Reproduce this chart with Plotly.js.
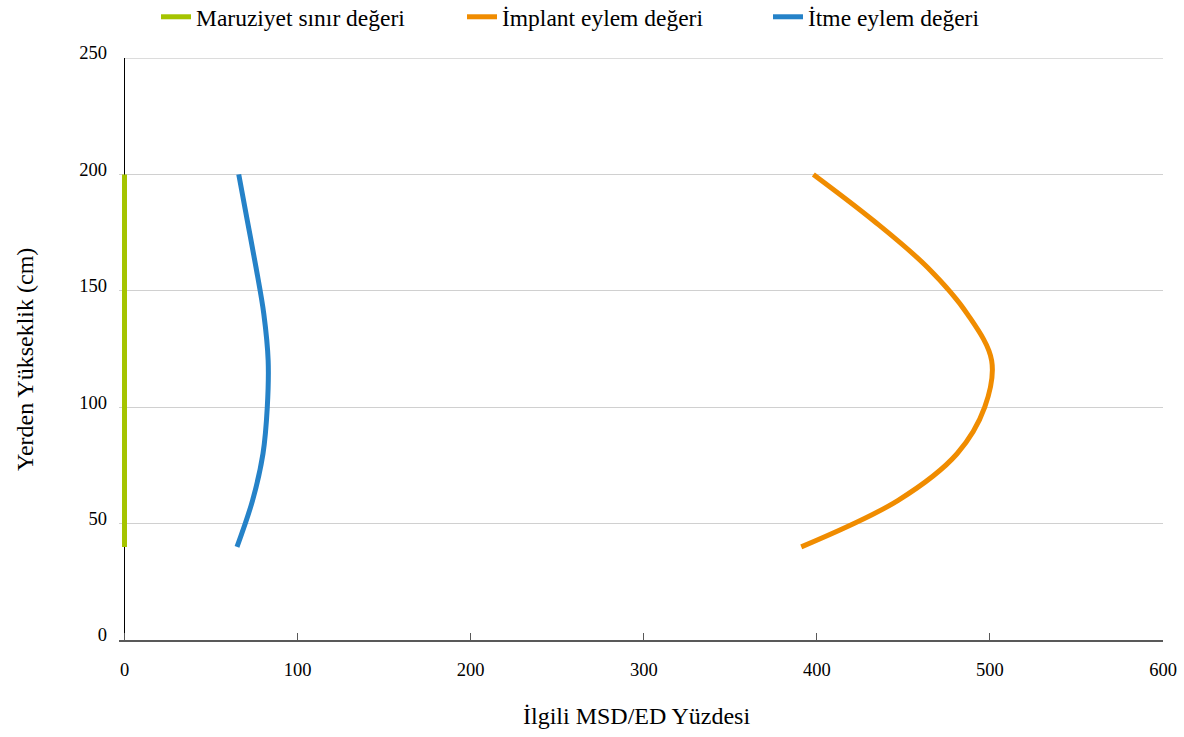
<!DOCTYPE html>
<html>
<head>
<meta charset="utf-8">
<script src="https://cdn.plot.ly/plotly-3.0.1.min.js"></script>
<style>html,body{margin:0;padding:0;background:#fff;}#chart{width:1184px;height:737px;}</style>
</head>
<body>
<div id="chart"></div>
<script>
const heights = [40, 60, 80, 100, 120, 140, 160, 180, 200];
const limitValues = [0, 0, 0, 0, 0, 0, 0, 0, 0];
const implantValues = [391, 447, 481, 497, 501, 487, 464, 433, 398];
const pushValues = [65, 74, 80, 82.5, 83, 80.5, 76, 71, 66];
const seriesNames = ["Maruziyet sınır değeri", "İmplant eylem değeri", "İtme eylem değeri"];
const xTicks = [0, 100, 200, 300, 400, 500, 600];
const yTicks = [0, 50, 100, 150, 200, 250];

const font = "'Times New Roman', 'Liberation Serif', serif";
const L = 119, R = 1163, T = 58, B = 640;
const x0px = 124.5;
const pxPerUnit = (R - x0px) / 600;
const xMin = -(x0px - L) / pxPerUnit;
const yMax = yTicks[yTicks.length - 1];

const traces = [
  {x: limitValues, y: heights, name: seriesNames[0], mode: "lines", line: {color: "#a5c400", width: 5}},
  {x: implantValues, y: heights, name: seriesNames[1], mode: "lines", line: {color: "#f08c00", width: 5, shape: "spline", smoothing: 1}},
  {x: pushValues, y: heights, name: seriesNames[2], mode: "lines", line: {color: "#2582c8", width: 5, shape: "spline", smoothing: 1}}
];
const layout = {
  width: 1184, height: 737,
  margin: {l: L, r: 1184 - R, t: T, b: 737 - B},
  paper_bgcolor: "#fff", plot_bgcolor: "#fff",
  font: {family: font, size: 18.5, color: "#000"},
  showlegend: true,
  legend: {orientation: "h", xref: "container", yref: "container",
           x: 156 / 1184, xanchor: "left", y: 1 - 17 / 737, yanchor: "middle",
           font: {family: font, size: 23.5, color: "#000"}, entrywidth: 261, entrywidthmode: "pixels",
           bgcolor: "rgba(0,0,0,0)"},
  xaxis: {range: [xMin, 600], tickvals: xTicks, ticktext: xTicks.map(String), showgrid: false,
          zeroline: true, zerolinecolor: "#000", zerolinewidth: 1,
          showline: true, linecolor: "#595959", linewidth: 1.5, ticks: "inside", ticklen: 7, tickcolor: "#595959",
          ticklabelstandoff: 12, tickfont: {family: font, size: 18.5}, fixedrange: true},
  yaxis: {range: [0, yMax], tickvals: yTicks, ticktext: yTicks.map(String), showgrid: true, gridcolor: "#d0d0d0", gridwidth: 1,
          zeroline: false, showline: false, ticks: "",
          ticklabelstandoff: 11, ticklabelshift: -5, tickfont: {family: font, size: 18.5}, fixedrange: true},
  shapes: [
    {type: "line", xref: "x", yref: "y", x0: 0, x1: xTicks[xTicks.length - 1], y0: yMax, y1: yMax,
     line: {color: "#d0d0d0", width: 1.5}, layer: "below"}
  ],
  annotations: [
    {text: "İlgili MSD/ED Yüzdesi", xref: "paper", yref: "paper", x: (636 - L) / (R - L), y: -(716 - B) / (B - T),
     xanchor: "center", yanchor: "middle", showarrow: false, font: {family: font, size: 24}},
    {text: "Yerden Yükseklik (cm)", xref: "paper", yref: "paper", x: -(L - 25) / (R - L), y: (B - 360) / (B - T),
     xanchor: "center", yanchor: "middle", textangle: -90, showarrow: false, font: {family: font, size: 24}}
  ]
};
Plotly.newPlot("chart", traces, layout, {displayModeBar: false, staticPlot: true});
</script>
</body>
</html>
